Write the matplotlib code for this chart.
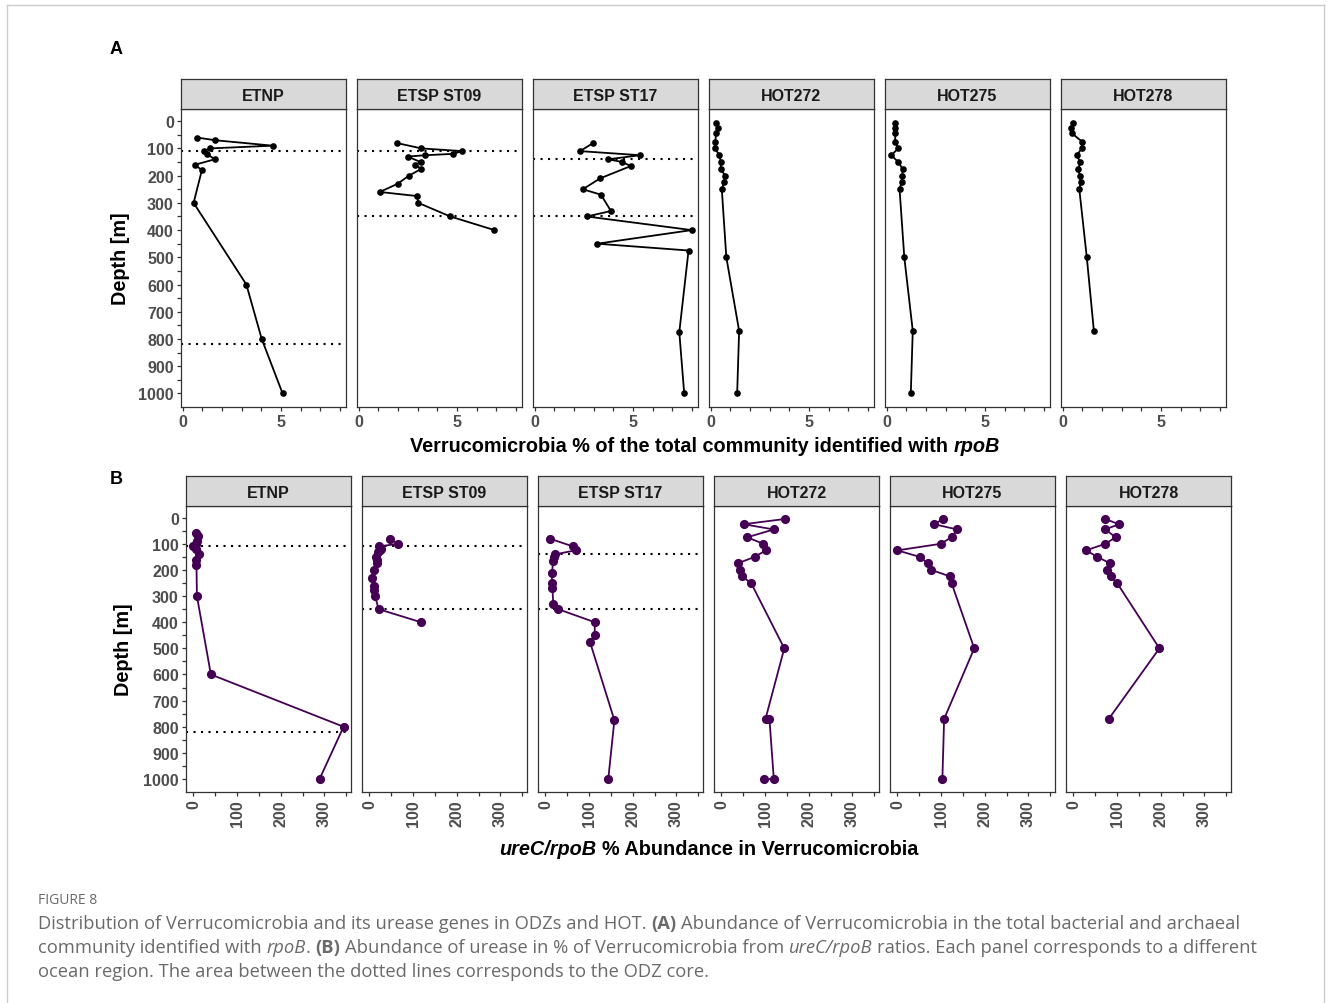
import matplotlib
matplotlib.use("Agg")
import matplotlib.pyplot as plt
from matplotlib.lines import Line2D
import numpy as np

# ---------------- data ----------------
stations = ["ETNP", "ETSP ST09", "ETSP ST17", "HOT272", "HOT275", "HOT278"]

# Panel A: Verrucomicrobia % of total community (rpoB)
etnp_depth = [60, 70, 90, 100, 110, 120, 140, 160, 180, 300, 600, 800, 1000]
etnp_rpoB = [0.73, 1.66, 4.58, 1.39, 1.07, 1.24, 1.63, 0.63, 0.98, 0.56, 3.24, 4.02, 5.08]

st09_depth = [80, 100, 110, 120, 125, 130, 150, 160, 175, 200, 230, 260, 275, 300, 350, 400]
st09_rpoB = [1.93, 3.19, 5.27, 4.80, 3.39, 2.49, 3.15, 2.86, 3.19, 2.56, 1.98, 1.08, 2.97, 3.03, 4.66, 6.90]

st17_depth = [80, 110, 125, 140, 150, 165, 210, 250, 270, 330, 350, 400, 450, 475, 775, 1000]
st17_rpoB = [2.98, 2.31, 5.36, 3.74, 4.46, 4.88, 3.33, 2.45, 3.37, 3.88, 2.65, 7.98, 3.18, 7.82, 7.35, 7.60]

hot_depth = [5, 25, 45, 75, 100, 125, 150, 175, 200, 225, 250, 500, 770, 1000]
hot272_rpoB = [0.28, 0.38, 0.28, 0.24, 0.22, 0.45, 0.52, 0.52, 0.73, 0.69, 0.57, 0.80, 1.45, 1.35]
hot275_rpoB = [0.45, 0.43, 0.45, 0.43, 0.59, 0.24, 0.59, 0.81, 0.80, 0.76, 0.66, 0.90, 1.33, 1.23]
hot278_depth = [5, 25, 45, 75, 100, 125, 150, 175, 200, 225, 250, 500, 770]
hot278_rpoB = [0.54, 0.42, 0.48, 0.99, 0.99, 0.71, 0.90, 0.80, 0.87, 0.92, 0.85, 1.23, 1.59]

# Panel B: ureC/rpoB % abundance in Verrucomicrobia
etnp_ureC = [6, 11, 8, 5, 0, 6, 13, 6, 7, 8, 40, 344, 289]
st09_ureC = [47, 66, 21, 27, 25, 20, 15, 17, 18, 10, 7, 11, 11, 13, 21, 118]
st17_ureC = [10, 63, 69, 23, 20, 18, 15, 15, 16, 18, 29, 113, 113, 102, 158, 144]
hot272_depth_B = [5, 25, 45, 75, 100, 125, 150, 175, 200, 225, 250, 500, 770, 770, 1000, 1000]
hot272_ureC = [145, 51, 120, 59, 96, 102, 76, 37, 42, 47, 68, 144, 101, 110, 120, 97]
hot275_ureC = [105, 84, 137, 124, 99, 0, 51, 70, 78, 121, 124, 176, 107, 103]
hot278_ureC = [73, 104, 73, 97, 73, 29, 55, 84, 78, 85, 100, 197, 81]

# ODZ core boundaries (dotted lines)
odz_bounds = {"ETNP": [110, 820], "ETSP ST09": [110, 350], "ETSP ST17": [140, 350],
              "HOT272": [], "HOT275": [], "HOT278": []}

A_depths = [etnp_depth, st09_depth, st17_depth, hot_depth, hot_depth, hot278_depth]
A_values = [etnp_rpoB, st09_rpoB, st17_rpoB, hot272_rpoB, hot275_rpoB, hot278_rpoB]
B_depths = [etnp_depth, st09_depth, st17_depth, hot272_depth_B, hot_depth, hot278_depth]
B_values = [etnp_ureC, st09_ureC, st17_ureC, hot272_ureC, hot275_ureC, hot278_ureC]

depth_ticks = list(range(0, 1001, 50))
depth_labels = [str(d) if d % 100 == 0 else "" for d in depth_ticks]
A_xticks = list(range(0, 9))
A_xlabels = ["0", "", "", "", "", "5", "", "", ""]
B_xticks = list(range(0, 351, 50))
B_xlabels = [str(v) if v % 100 == 0 else "" for v in B_xticks]

# ---------------- figure ----------------
W, H = 1331, 1004
fig = plt.figure(figsize=(W / 100, H / 100), dpi=100)
FONT = "Liberation Sans"
plt.rcParams["font.family"] = [FONT, "DejaVu Sans"]
TICKCOL = "#4d4d4d"
EDGE = "#333333"
PURPLE = "#440154"


def rect(x0, y0, x1, y1):
    return [x0 / W, 1 - y1 / H, (x1 - x0) / W, (y1 - y0) / H]


# outer frame
for (xs, ys) in [((7, 7), (6, 1004)), ((7, 1324), (6, 6)), ((1324, 1324), (6, 1004))]:
    fig.add_artist(Line2D([x / W for x in xs], [1 - y / H for y in ys], color="#cccccc", lw=1.0))

PW = 165


def panel(left, top, bottom, name, depth, vals, color, ms, xlim, xticks, xlabels, first, rot):
    ax = fig.add_axes(rect(left, top, left + PW, bottom))
    ax.plot(vals, depth, "-", color=color, lw=1.3, zorder=3)
    ax.plot(vals, depth, "o", color=color, ms=ms, zorder=4, mew=0)
    for d in odz_bounds[name]:
        ax.axhline(d, color="black", ls=(0, (1, 2.6)), lw=1.5, zorder=2)
    ax.set_ylim(1049.75, -44.75)
    ax.set_xlim(*xlim)
    ax.set_xticks(xticks)
    ax.set_xticklabels(xlabels, rotation=rot, fontsize=11.5, fontweight="bold", color=TICKCOL)
    if first:
        ax.set_yticks(depth_ticks)
        ax.set_yticklabels(depth_labels, fontsize=11.5, fontweight="bold", color=TICKCOL)
    else:
        ax.set_yticks([])
    ax.tick_params(axis="both", length=3.2, width=0.9, color=EDGE, pad=2)
    for s in ax.spines.values():
        s.set_color(EDGE)
        s.set_linewidth(0.9)
    st = fig.add_axes(rect(left, top - 30, left + PW, top))
    st.set_facecolor("#d9d9d9")
    st.set_xticks([])
    st.set_yticks([])
    for s in st.spines.values():
        s.set_color(EDGE)
        s.set_linewidth(0.9)
    st.text(0.5, 0.45, name, ha="center", va="center", fontsize=11.5, fontweight="bold",
            color="#1a1a1a", transform=st.transAxes)
    return ax


A_lefts = [181, 357, 533, 709, 885, 1061]
B_lefts = [186, 362, 538, 714, 890, 1066]
for i, name in enumerate(stations):
    panel(A_lefts[i], 110, 408, name, A_depths[i], A_values[i], "black", 4.8,
          (-0.08, 8.3), A_xticks, A_xlabels, i == 0, 0)
    panel(B_lefts[i], 507, 793, name, B_depths[i], B_values[i], PURPLE, 6.6,
          (-17, 361), B_xticks, B_xlabels, i == 0, 90)

renderer = fig.canvas.get_renderer()


def measure(s, size, weight, style, family):
    t = fig.text(0, 0, s, fontsize=size, fontweight=weight, fontstyle=style, family=family)
    w = t.get_window_extent(renderer).width
    t.remove()
    return w


def draw_runs(runs, x, y, size, color, family=FONT, ha="center", target_width=None):
    # runs: list of (text, weight, style); spaces handled explicitly
    def layout(sz):
        items = []
        for s, wgt, sty in runs:
            lead = len(s) - len(s.lstrip(" "))
            trail = len(s) - len(s.rstrip(" "))
            core = s.strip(" ")
            sp = measure("x x", sz, wgt, sty, family) - measure("xx", sz, wgt, sty, family)
            items.append((core, wgt, sty, lead * sp, measure(core, sz, wgt, sty, family) if core else 0, trail * sp))
        total = sum(a + b + c for (_, _, _, a, b, c) in items)
        return items, total

    if target_width is not None:
        _, tw = layout(size)
        size = size * target_width / tw
    items, total = layout(size)
    cur = x - total / 2 if ha == "center" else x
    for core, wgt, sty, lead, w, trail in items:
        cur += lead
        if core:
            fig.text(cur / W, 1 - y / H, core, fontsize=size, fontweight=wgt, fontstyle=sty,
                     family=family, color=color, ha="left", va="baseline")
        cur += w + trail
    return size


# panel letters
fig.text(110 / W, 1 - 54 / H, "A", fontsize=13, fontweight="bold", ha="left", va="baseline")
fig.text(110 / W, 1 - 484 / H, "B", fontsize=13, fontweight="bold", ha="left", va="baseline")

# axis titles
fig.text(120 / W, 1 - 259 / H, "Depth [m]", rotation=90, fontsize=14.3, fontweight="bold",
         ha="center", va="center")
fig.text(124 / W, 1 - 650 / H, "Depth [m]", rotation=90, fontsize=14.3, fontweight="bold",
         ha="center", va="center")
draw_runs([("Verrucomicrobia % of the total community identified with ", "bold", "normal"),
           ("rpoB", "bold", "italic")], 705, 452, 14, "black", target_width=592)
draw_runs([("ureC/rpoB", "bold", "italic"), (" % Abundance in Verrucomicrobia", "bold", "normal")],
          709, 855, 14, "black", target_width=419)

# caption
CAP = "#6a6a6a"
CF = "Open Sans"
fig.text(38 / W, 1 - 904 / H, "FIGURE 8", fontsize=10, family=CF, color=CAP, ha="left", va="baseline")
line1 = [("Distribution of Verrucomicrobia and its urease genes in ODZs and HOT. ", "normal", "normal"),
         ("(A)", "bold", "normal"),
         (" Abundance of Verrucomicrobia in the total bacterial and archaeal", "normal", "normal")]
csize = draw_runs(line1, 38, 929, 12, CAP, family=CF, ha="left", target_width=1197)
line2 = [("community identified with ", "normal", "normal"), ("rpoB", "normal", "italic"),
         (". ", "normal", "normal"), ("(B)", "bold", "normal"),
         (" Abundance of urease in % of Verrucomicrobia from ", "normal", "normal"),
         ("ureC/rpoB", "normal", "italic"),
         (" ratios. Each panel corresponds to a different", "normal", "normal")]
draw_runs(line2, 38, 953, csize, CAP, family=CF, ha="left")
line3 = [("ocean region. The area between the dotted lines corresponds to the ODZ core.", "normal", "normal")]
draw_runs(line3, 38, 977, csize, CAP, family=CF, ha="left")

fig.savefig("out.png", dpi=100)
